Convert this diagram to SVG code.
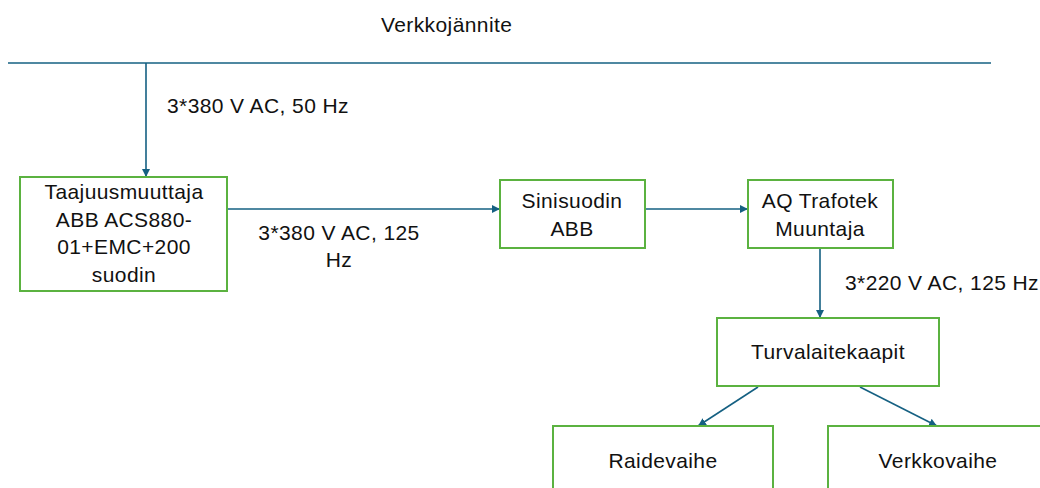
<svg xmlns="http://www.w3.org/2000/svg" width="1040" height="488" viewBox="0 0 1040 488">
<defs>
<marker id="ah" viewBox="0 0 10 10" refX="10" refY="5" markerWidth="8" markerHeight="8" markerUnits="userSpaceOnUse" orient="auto">
<path d="M0,0 L10,5 L0,10 Z" fill="#156082"/>
</marker>
<style>
.box{fill:#ffffff;stroke:#5bb240;stroke-width:2}
.ln{fill:none;stroke:#156082;stroke-width:1.6}
.t{font-family:"Liberation Sans",Arial,sans-serif;font-size:21px;letter-spacing:0.4px;fill:#111111}
.c{text-anchor:middle}
</style>
</defs>
<rect width="1040" height="488" fill="#ffffff"/>
<g id="connectors">
<line class="ln" x1="8" y1="63" x2="991" y2="63"/>
<line class="ln" x1="146" y1="63" x2="146" y2="177" marker-end="url(#ah)"/>
<line class="ln" x1="228" y1="209" x2="500" y2="209" marker-end="url(#ah)"/>
<line class="ln" x1="645" y1="209" x2="748" y2="209" marker-end="url(#ah)"/>
<line class="ln" x1="820" y1="248" x2="820" y2="318" marker-end="url(#ah)"/>
<line class="ln" x1="758" y1="387" x2="698" y2="426" marker-end="url(#ah)"/>
<line class="ln" x1="860" y1="387" x2="937" y2="426" marker-end="url(#ah)"/>
</g>
<g id="labels">
<text class="t" x="381" y="32">Verkkojännite</text>
<text class="t" x="167" y="113">3*380 V AC, 50 Hz</text>
<text class="t c" x="339" y="240">3*380 V AC, 125</text>
<text class="t c" x="339" y="267">Hz</text>
<text class="t" x="845" y="290">3*220 V AC, 125 Hz</text>
</g>
<g id="taajuusmuuttaja">
<rect class="box" x="20" y="177" width="207" height="114"/>
<text class="t c" x="124" y="199">Taajuusmuuttaja</text>
<text class="t c" x="124" y="227">ABB ACS880-</text>
<text class="t c" x="124" y="254">01+EMC+200</text>
<text class="t c" x="124" y="282">suodin</text>
</g>
<g id="sinisuodin">
<rect class="box" x="500" y="180" width="145" height="68"/>
<text class="t c" x="572" y="208">Sinisuodin</text>
<text class="t c" x="572" y="236">ABB</text>
</g>
<g id="muuntaja">
<rect class="box" x="748" y="180" width="145" height="68"/>
<text class="t c" x="820" y="208">AQ Trafotek</text>
<text class="t c" x="820" y="236">Muuntaja</text>
</g>
<g id="turvalaitekaapit">
<rect class="box" x="717" y="318" width="222" height="68"/>
<text class="t c" x="828" y="359">Turvalaitekaapit</text>
</g>
<g id="raidevaihe">
<rect class="box" x="553" y="426" width="220" height="70"/>
<text class="t c" x="663" y="468">Raidevaihe</text>
</g>
<g id="verkkovaihe">
<rect class="box" x="828" y="426" width="220" height="70"/>
<text class="t c" x="938" y="468">Verkkovaihe</text>
</g>
</svg>
